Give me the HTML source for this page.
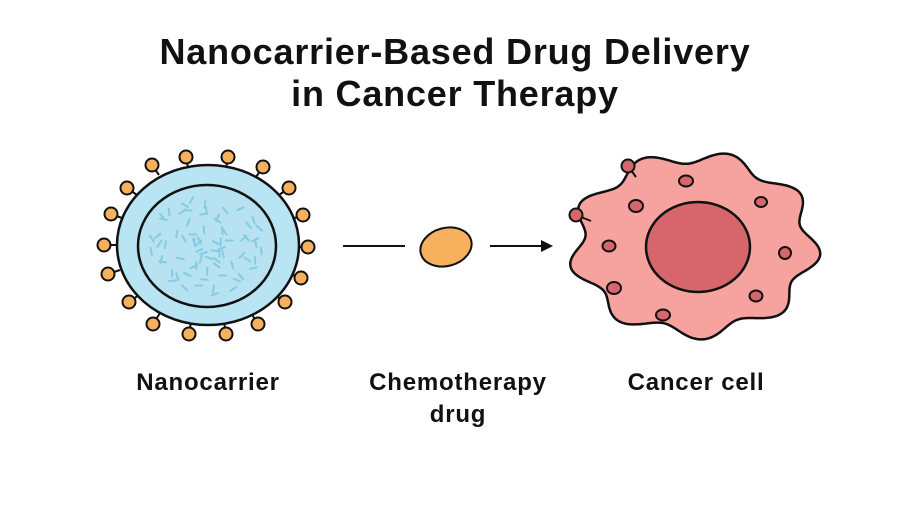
<!DOCTYPE html>
<html><head><style>
html,body{margin:0;padding:0;background:#fff}
svg{display:block}
text{font-family:"Liberation Sans",sans-serif;font-weight:bold;fill:#111}
</style></head><body>
<svg id="sv" width="909" height="530" viewBox="0 0 909 530" xmlns="http://www.w3.org/2000/svg">
<text x="455" y="64" font-size="36" text-anchor="middle" letter-spacing="0.8">Nanocarrier-Based Drug Delivery</text>
<text x="455" y="106" font-size="36" text-anchor="middle" letter-spacing="0.8">in Cancer Therapy</text>

<g stroke="#111" stroke-width="2" fill="#f7b15e">
<line x1="186" y1="157" x2="188.4" y2="170"/><circle cx="186" cy="157" r="6.5"/>
<line x1="228" y1="157" x2="225.8" y2="170"/><circle cx="228" cy="157" r="6.5"/>
<line x1="263" y1="167" x2="256" y2="177"/><circle cx="263" cy="167" r="6.5"/>
<line x1="289" y1="188" x2="279" y2="195"/><circle cx="289" cy="188" r="6.5"/>
<line x1="303" y1="215" x2="292" y2="219"/><circle cx="303" cy="215" r="6.5"/>
<line x1="308" y1="247" x2="296" y2="247"/><circle cx="308" cy="247" r="6.5"/>
<line x1="301" y1="278" x2="290" y2="274"/><circle cx="301" cy="278" r="6.5"/>
<line x1="285" y1="302" x2="275" y2="295"/><circle cx="285" cy="302" r="6.5"/>
<line x1="258" y1="324" x2="251" y2="313"/><circle cx="258" cy="324" r="6.5"/>
<line x1="226" y1="334" x2="224" y2="322"/><circle cx="226" cy="334" r="6.5"/>
<line x1="189" y1="334" x2="191" y2="322"/><circle cx="189" cy="334" r="6.5"/>
<line x1="153" y1="324" x2="160" y2="313"/><circle cx="153" cy="324" r="6.5"/>
<line x1="129" y1="302" x2="139" y2="295"/><circle cx="129" cy="302" r="6.5"/>
<line x1="108" y1="274" x2="120" y2="270"/><circle cx="108" cy="274" r="6.5"/>
<line x1="104" y1="245" x2="117" y2="245"/><circle cx="104" cy="245" r="6.5"/>
<line x1="111" y1="214" x2="122" y2="218"/><circle cx="111" cy="214" r="6.5"/>
<line x1="127" y1="188" x2="137" y2="195"/><circle cx="127" cy="188" r="6.5"/>
<line x1="152" y1="165" x2="159" y2="175"/><circle cx="152" cy="165" r="6.5"/>
</g>
<ellipse cx="208" cy="245" rx="91" ry="80" fill="#b8e4f4" stroke="#111" stroke-width="2.5"/>
<ellipse cx="207" cy="246" rx="69" ry="61" fill="#b6e2f2" stroke="#111" stroke-width="2.5"/>
<g id="dash" stroke="#86cbe2" stroke-width="2" stroke-linecap="round"></g>

<line x1="343" y1="246" x2="405" y2="246" stroke="#111" stroke-width="2"/>
<ellipse cx="446" cy="247" rx="26" ry="19" fill="#f7b15e" stroke="#111" stroke-width="2" transform="rotate(-15 446 247)"/>
<line x1="490" y1="246" x2="545" y2="246" stroke="#111" stroke-width="2"/>
<polygon points="553,246 541,240 541,252" fill="#111"/>

<path id="blob" fill="#f6a3a0" stroke="#111" stroke-width="2.5"/>
<ellipse cx="698" cy="247" rx="52" ry="45" fill="#d6666b" stroke="#111" stroke-width="2.5"/>
<g fill="#d6666b" stroke="#111" stroke-width="2">
<ellipse cx="686" cy="181" rx="7" ry="5.5"/><ellipse cx="761" cy="202" rx="6" ry="5"/>
<ellipse cx="636" cy="206" rx="7" ry="6"/><ellipse cx="609" cy="246" rx="6.5" ry="5.5"/>
<ellipse cx="785" cy="253" rx="6" ry="6"/><ellipse cx="614" cy="288" rx="7" ry="6"/>
<ellipse cx="756" cy="296" rx="6.5" ry="5.5"/><ellipse cx="663" cy="315" rx="7" ry="5.5"/>
<line x1="628" y1="166" x2="636" y2="177"/><circle cx="628" cy="166" r="6.5"/>
<line x1="576" y1="215" x2="591" y2="221"/><circle cx="576" cy="215" r="6.5"/>
</g>

<text x="208" y="390" font-size="24" text-anchor="middle" letter-spacing="0.8">Nanocarrier</text>
<text x="458" y="390" font-size="24" text-anchor="middle" letter-spacing="0.8">Chemotherapy</text>
<text x="458" y="422" font-size="24" text-anchor="middle" letter-spacing="0.8">drug</text>
<text x="696" y="390" font-size="24" text-anchor="middle" letter-spacing="0.8">Cancer cell</text>
</svg>
<script>
var NS="http://www.w3.org/2000/svg";
var g=document.getElementById('dash'),seed=3;
function r(){seed=(seed*9301+49297)%233280;return seed/233280;}
for(var i=0;i<75;i++){var a=r()*6.283,rr=Math.sqrt(r())*0.9,x=207+Math.cos(a)*rr*64,y=246+Math.sin(a)*rr*56,t=r()*6.283;
var l=document.createElementNS(NS,'line');
l.setAttribute('x1',x-3.5*Math.cos(t));l.setAttribute('y1',y-3.5*Math.sin(t));
l.setAttribute('x2',x+3.5*Math.cos(t));l.setAttribute('y2',y+3.5*Math.sin(t));g.appendChild(l);}
var p='';for(var i=0;i<=360;i++){var a=i*Math.PI/180,k=1+0.075*Math.sin(9*a+0.6);
p+=(i?'L':'M')+(694+Math.cos(a)*118*k).toFixed(1)+','+(245+Math.sin(a)*88*k).toFixed(1);}
document.getElementById('blob').setAttribute('d',p+'Z');
</script>
</body></html>
